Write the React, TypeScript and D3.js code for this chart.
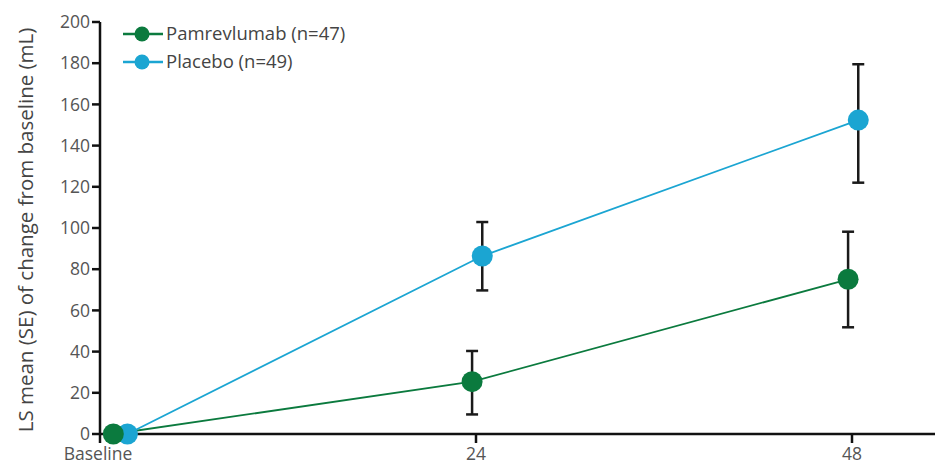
import React from "react";
import * as d3 from "d3";

const seriesNames = ["Pamrevlumab (n=47)", "Placebo (n=49)"];
const seriesColors = ["#0b7a3e", "#1ba5d2"];
// plotted x positions in weeks (slightly dodged)
const pamX = [0.85, 23.75, 47.75];
const placX = [1.75, 24.4, 48.4];
const pamMean = [0, 25.4, 75.1];
const pamLo = [0, 9.5, 51.8];
const pamHi = [0, 40.3, 98.2];
const placMean = [0, 86.4, 152.4];
const placLo = [0, 69.7, 122];
const placHi = [0, 102.9, 179.5];
const xTickVals = [0, 24, 48];
const xTickLabels = ["Baseline", "24", "48"];
const yTicks = d3.range(0, 201, 20);

const W = 940, H = 466;
const FONT = "'Open Sans', sans-serif";

export default function App() {
  const x = d3.scaleLinear().domain([0, 48]).range([100, 852]);
  const y = d3.scaleLinear().domain([0, 200]).range([434, 22]);
  const line = d3.line<[number, number]>().x(d => x(d[0])).y(d => y(d[1]));

  const series = [
    { xs: pamX, m: pamMean, lo: pamLo, hi: pamHi, c: seriesColors[0] },
    { xs: placX, m: placMean, lo: placLo, hi: placHi, c: seriesColors[1] },
  ];

  return (
    <svg width={W} height={H} style={{ position: "absolute", left: 0, top: 0, background: "#fff" }}>
      {/* y axis */}
      <line x1={x(0)} x2={x(0)} y1={y(200)} y2={y(0)} stroke="#111" strokeWidth={2.5} />
      {yTicks.map(t => (
        <g key={t}>
          <line x1={x(0) - 8} x2={x(0)} y1={y(t)} y2={y(t)} stroke="#111" strokeWidth={2.5} />
          <text x={x(0) - 10} y={y(t)} dy="0.35em" textAnchor="end" fontFamily={FONT} fontSize={17.5} fill="#555">{t}</text>
        </g>
      ))}
      <text transform={`translate(26,${y(100) + 2}) rotate(-90)`} dy="0.35em" textAnchor="middle" fontFamily={FONT} fontSize={20.5} fill="#444">
        LS mean (SE) of change from baseline (mL)
      </text>
      {/* x axis */}
      <line x1={x(0)} x2={935} y1={y(0)} y2={y(0)} stroke="#111" strokeWidth={2.5} />
      {xTickVals.map((t, i) => (
        <g key={t}>
          <line x1={x(t)} x2={x(t)} y1={y(0)} y2={y(0) + 9} stroke="#111" strokeWidth={2.5} />
          <text x={i === 0 ? x(t) - 2 : x(t)} y={y(0) + 26} textAnchor="middle" fontFamily={FONT} fontSize={17.5} fill="#555">{xTickLabels[i]}</text>
        </g>
      ))}
      {/* lines */}
      {series.map((s, k) => (
        <path key={k} d={line(s.xs.map((v, i) => [v, s.m[i]]) as [number, number][]) || ""} fill="none" stroke={s.c} strokeWidth={1.8} />
      ))}
      {/* error bars */}
      {series.map((s, k) => (
        <g key={k}>
          {s.xs.map((v, i) => i === 0 ? null : (
            <g key={i}>
              <line x1={x(v)} x2={x(v)} y1={y(s.lo[i])} y2={y(s.hi[i])} stroke="#1a1a1a" strokeWidth={2.5} />
              <line x1={x(v) - 6} x2={x(v) + 6} y1={y(s.lo[i])} y2={y(s.lo[i])} stroke="#1a1a1a" strokeWidth={2.5} />
              <line x1={x(v) - 6} x2={x(v) + 6} y1={y(s.hi[i])} y2={y(s.hi[i])} stroke="#1a1a1a" strokeWidth={2.5} />
            </g>
          ))}
        </g>
      ))}
      {/* points: placebo first at baseline then pamrevlumab on top */}
      {[1, 0].map(k => (
        <g key={k}>
          {series[k].xs.map((v, i) => (
            <circle key={i} cx={x(v)} cy={y(series[k].m[i])} r={10.5} fill={series[k].c} />
          ))}
        </g>
      ))}
      {/* legend */}
      {seriesNames.map((n, i) => (
        <g key={n} transform={`translate(0,${34 + i * 28})`}>
          <line x1={123} x2={163} y1={0} y2={0} stroke={seriesColors[i]} strokeWidth={2.5} />
          <circle cx={142} cy={0} r={7.5} fill={seriesColors[i]} />
          <text x={166} y={0} dy="0.35em" fontFamily={FONT} fontSize={18.5} fill="#444">{n}</text>
        </g>
      ))}
    </svg>
  );
}
